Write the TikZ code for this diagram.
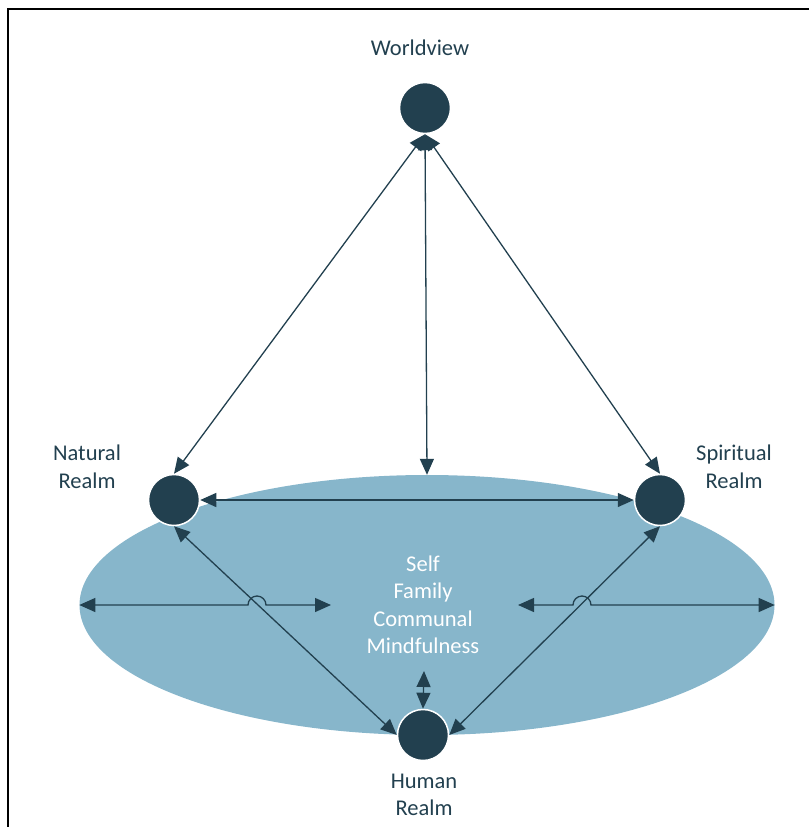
\documentclass[tikz,border=0pt]{standalone}
\usepackage{fontspec}
\setmainfont{Carlito}
\usetikzlibrary{arrows.meta,shapes.geometric}

\definecolor{realmDark}{HTML}{22404F}
\definecolor{realmBlue}{HTML}{87B6CB}

\begin{document}
\begin{tikzpicture}[
        x=1pt, y=-1pt,
        >={Triangle[length=16pt, width=14pt]},
        every node/.style={font=\fontsize{22.5}{27.5}\selectfont},
        realmDot/.style={circle, fill=realmDark, draw=white, line width=1.5pt, minimum size=51pt, inner sep=0pt},
        realmLabel/.style={text=realmDark, align=center},
        linkLine/.style={<->, realmDark, line width=1.3pt},
        frameLine/.style={black, line width=2pt}
    ]
        \useasboundingbox (0,0) rectangle (809,827);

        % Frame of the figure
        \draw[frameLine] (8,827) -- (8,9) -- (809,9);

        % Shared ground of the realms
        \node[ellipse, fill=realmBlue, minimum width=695pt, minimum height=260pt, inner sep=0pt] (ground) at (427,605) {};

        % The four realms
        \node[realmDot] (world) at (425,108) {};
        \node[realmDot] (natural) at (174,500) {};
        \node[realmDot] (spirit) at (660,500) {};
        \node[realmDot] (human) at (423,735) {};

        \node[realmLabel] (worldTxt) at (420,48) {Worldview};
        \node[realmLabel] (naturalTxt) at (87,467) {Natural\\Realm};
        \node[realmLabel] (spiritTxt) at (734,467) {Spiritual\\Realm};
        \node[realmLabel] (humanTxt) at (424,795) {Human\\Realm};

        % Core of the ground
        \node[text=white, align=center] (core) at (423,605) {Self\\Family\\Communal\\Mindfulness};

        % Links from the worldview
        \draw[linkLine] (world.south) -- (natural.north);
        \draw[linkLine] (world.south) -- (spirit.north);
        \draw[linkLine] (world.south) -- (ground.north);

        % Links between the realms
        \draw[linkLine] (natural.east) -- (spirit.west);
        \draw[linkLine] (natural.south) -- (human.west);
        \draw[linkLine] (spirit.south) -- (human.east);

        % Core to the human realm
        \coordinate (coreFoot) at (424,671);
        \draw[linkLine] (coreFoot) -- (human.north);

        % Horizontal spread with hops over the diagonals
        \coordinate (leftEnd) at (331,605);
        \coordinate (rightEnd) at (518,605);
        \draw[linkLine] (ground.west) -- (248,605) arc (180:360:9) -- (leftEnd);
        \draw[linkLine] (rightEnd) -- (573,605) arc (180:360:9) -- (ground.east);

    \end{tikzpicture}
\end{document}
